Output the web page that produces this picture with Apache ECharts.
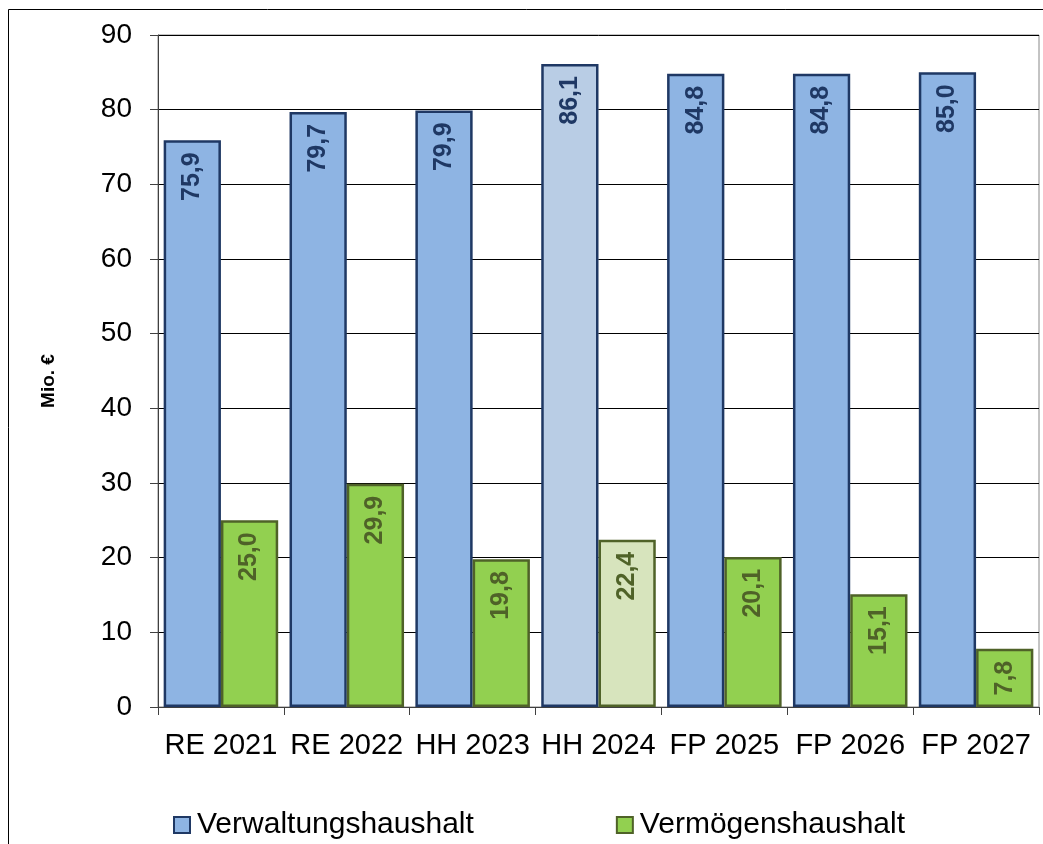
<!DOCTYPE html>
<html><head><meta charset="utf-8">
<script src="https://cdn.jsdelivr.net/npm/echarts@6/dist/echarts.min.js"></script>
<style>html,body{margin:0;padding:0;background:#fff}#c{width:1043px;height:844px}</style>
</head><body><div id="c"></div>
<script>
const categories = ['RE 2021','RE 2022','HH 2023','HH 2024','FP 2025','FP 2026','FP 2027'];
const verwaltung = [75.9, 79.7, 79.9, 86.1, 84.8, 84.8, 85.0];
const vermoegen = [25.0, 29.9, 19.8, 22.4, 20.1, 15.1, 7.8];
const yTicks = [0,10,20,30,40,50,60,70,80,90];
const highlightIndex = 3;

const font = 'Liberation Sans, Arial, sans-serif';
const fmt = p => p.value.toFixed(1).replace('.', ',');

function mk(vals, light) {
  return vals.map((v, i) => i === highlightIndex
    ? { value: v, itemStyle: { color: light } }
    : v);
}

const chart = echarts.init(document.getElementById('c'), null, {renderer:'canvas'});
chart.setOption({
  animation: false,
  backgroundColor: '#fff',
  graphic: [{
    type: 'rect', shape: { x: 8.5, y: 9.5, width: 1200, height: 1000 },
    style: { fill: 'none', stroke: '#000', lineWidth: 1 }, silent: true, z: -1
  }],
  grid: { left: 158, top: 35, right: 4, bottom: 137, show: true, borderColor: '#888', borderWidth: 1 },
  legend: {
    left: 168, top: 805, itemWidth: 16, itemHeight: 16, itemGap: 142,
    icon: 'rect',
    textStyle: { fontFamily: font, fontSize: 30, color: '#000', padding: [0,0,0,2] },
    data: [
      { name: 'Verwaltungshaushalt', itemStyle: { color: '#8eb4e3', borderColor: '#1f3864', borderWidth: 2 } },
      { name: 'Vermögenshaushalt', itemStyle: { color: '#92d050', borderColor: '#4f6228', borderWidth: 2 } }
    ]
  },
  xAxis: {
    type: 'category', data: categories,
    axisLine: { lineStyle: { color: '#404040', width: 1 } },
    axisTick: { show: true, length: 8, lineStyle: { color: '#404040' } },
    axisLabel: { interval: 0, fontFamily: font, fontSize: 29, color: '#000', margin: 24 }
  },
  yAxis: {
    type: 'value', min: yTicks[0], max: yTicks[yTicks.length-1], interval: 10,
    name: 'Mio. €', nameLocation: 'middle', nameGap: 100,
    nameTextStyle: { fontFamily: font, fontSize: 19, fontWeight: 'bold', color: '#000', padding: [0, 0, 0, -20] },
    axisLine: { show: true, lineStyle: { color: '#404040', width: 1 } },
    axisTick: { show: true, length: 8, lineStyle: { color: '#404040' } },
    axisLabel: { fontFamily: font, fontSize: 28, color: '#000', margin: 26 },
    splitLine: { lineStyle: { color: '#000', width: 1 } }
  },
  series: [
    {
      name: 'Verwaltungshaushalt', type: 'bar', barGap: '0%', barCategoryGap: '9%',
      data: mk(verwaltung, '#b9cde5'),
      itemStyle: { color: '#8eb4e3', borderColor: '#1f3864', borderWidth: 2.5 },
      label: { show: true, position: 'insideTop', rotate: 90, align: 'right', verticalAlign: 'middle',
        distance: 12, formatter: fmt, fontFamily: font, fontSize: 25, fontWeight: 'bold', color: '#1f3864' }
    },
    {
      name: 'Vermögenshaushalt', type: 'bar',
      data: mk(vermoegen, '#d7e4bd'),
      itemStyle: { color: '#92d050', borderColor: '#4f6228', borderWidth: 2.5 },
      label: { show: true, position: 'insideTop', rotate: 90, align: 'right', verticalAlign: 'middle',
        distance: 12, formatter: fmt, fontFamily: font, fontSize: 25, fontWeight: 'bold', color: '#4f6228' }
    }
  ]
});
</script></body></html>
